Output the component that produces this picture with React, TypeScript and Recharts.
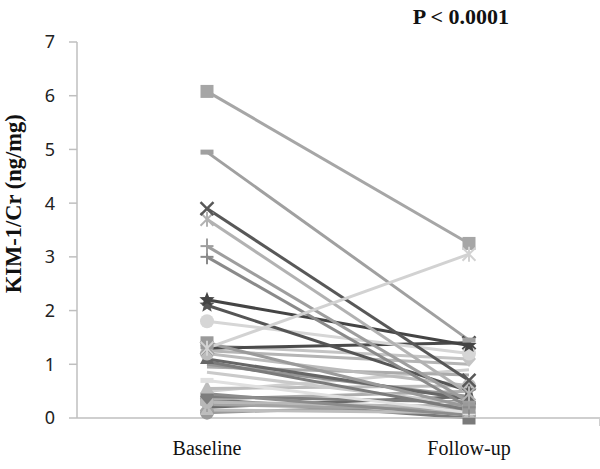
import React from "react";
import { LineChart, Line, XAxis, YAxis } from "recharts";

const categories = ["Baseline", "Follow-up"];
const yTicks = [0, 1, 2, 3, 4, 5, 6, 7];
const title = "P < 0.0001";
const yLabel = "KIM-1/Cr (ng/mg)";

// one entry per patient
const baselineValues = [
  0.35, 0.1, 0.15, 0.2, 0.25, 0.3, 0.35, 0.4, 0.45, 0.5, 0.55, 0.7, 0.85, 0.95,
  1.0, 1.05, 1.1, 1.2, 1.25, 1.35, 1.3, 1.4, 1.8, 2.1, 2.2, 3.0, 3.2, 3.7, 3.9,
  4.95, 6.08, 1.3,
];
const followUpValues = [
  0.0, 0.25, 0.1, 0.4, 0.15, 0.2, 0.5, 0.3, 0.05, 0.9, 0.6, 0.1, 0.25, 0.8,
  0.4, 0.15, 0.35, 0.6, 1.0, 1.1, 1.4, 0.2, 1.2, 0.5, 1.35, 0.2, 0.3, 0.45, 0.7,
  1.45, 3.25, 3.05,
];
const seriesColors = [
  "#7a7a7a", "#9a9a9a", "#bdbdbd", "#6a6a6a", "#a3a3a3", "#b8b8b8", "#adadad",
  "#7d7d7d", "#8c8c8c", "#d0d0d0", "#bcbcbc", "#e0e0e0", "#cacaca", "#ababab",
  "#959595", "#7a7a7a", "#666666", "#bbbbbb", "#b5b5b5", "#c4c4c4", "#4a4a4a",
  "#9a9a9a", "#d6d6d6", "#555555", "#444444", "#8a8a8a", "#9e9e9e", "#b2b2b2",
  "#585858", "#a0a0a0", "#a6a6a6", "#d2d2d2",
];
const seriesMarkers = [
  "square", "circle", "triangle", "none", "asterisk", "circle", "none", "diamond",
  "none", "none", "triangle", "dash", "none", "none", "none", "none", "triangle",
  "circle", "none", "diamond", "x", "square", "circle", "star", "star", "plus",
  "plus", "asterisk", "x", "dash", "square", "asterisk",
];

const rows = categories.map((name, i) => {
  const row: Record<string, string | number> = { name };
  baselineValues.forEach((b, k) => {
    row["p" + k] = i === 0 ? b : followUpValues[k];
  });
  return row;
});

function Marker(props: any) {
  const { cx, cy, kind, color } = props;
  if (cx == null || cy == null) return null;
  const s = 6.5;
  switch (kind) {
    case "square":
      return <rect x={cx - s} y={cy - s} width={2 * s} height={2 * s} fill={color} />;
    case "dash":
      return <rect x={cx - s} y={cy - 2.5} width={2 * s} height={5} fill={color} />;
    case "circle":
      return <circle cx={cx} cy={cy} r={7} fill={color} />;
    case "diamond":
      return (
        <polygon
          points={`${cx},${cy - 8} ${cx + 7},${cy} ${cx},${cy + 8} ${cx - 7},${cy}`}
          fill={color}
        />
      );
    case "triangle":
      return (
        <polygon
          points={`${cx},${cy - 8} ${cx + 7},${cy + 5} ${cx - 7},${cy + 5}`}
          fill={color}
        />
      );
    case "x":
      return (
        <g stroke={color} strokeWidth={2.5}>
          <line x1={cx - s} y1={cy - s} x2={cx + s} y2={cy + s} />
          <line x1={cx - s} y1={cy + s} x2={cx + s} y2={cy - s} />
        </g>
      );
    case "asterisk":
      return (
        <g stroke={color} strokeWidth={2}>
          <line x1={cx - s} y1={cy - s} x2={cx + s} y2={cy + s} />
          <line x1={cx - s} y1={cy + s} x2={cx + s} y2={cy - s} />
          <line x1={cx} y1={cy - s - 1} x2={cx} y2={cy + s + 1} />
        </g>
      );
    case "plus":
      return (
        <g stroke={color} strokeWidth={2}>
          <line x1={cx - s} y1={cy} x2={cx + s} y2={cy} />
          <line x1={cx} y1={cy - s - 1} x2={cx} y2={cy + s + 1} />
        </g>
      );
    case "star": {
      const pts: string[] = [];
      for (let j = 0; j < 10; j++) {
        const r = j % 2 === 0 ? 8 : 3.5;
        const a = -Math.PI / 2 + (j * Math.PI) / 5;
        pts.push(`${cx + r * Math.cos(a)},${cy + r * Math.sin(a)}`);
      }
      return <polygon points={pts.join(" ")} fill={color} />;
    }
    default:
      return <g />;
  }
}

function YLabel(props: any) {
  const vb = props.viewBox || { x: 0, y: 0, width: 0, height: 0 };
  const x = vb.x + 21;
  const y = vb.y + vb.height * 0.43;
  return (
    <text
      x={x}
      y={y}
      transform={`rotate(-90 ${x} ${y})`}
      textAnchor="middle"
      fontFamily="'Liberation Serif', 'Times New Roman', serif"
      fontWeight="bold"
      fontSize={22.5}
      fill="#111"
    >
      {yLabel}
    </text>
  );
}

export default function App() {
  return (
    <div style={{ position: "absolute", left: 0, top: 0, width: 600, height: 469, background: "#fff" }}>
      <LineChart
        width={600}
        height={469}
        data={rows}
        margin={{ top: 42, right: 0, bottom: 0, left: 0 }}
      >
        <text
          x={461}
          y={24}
          textAnchor="middle"
          fontFamily="'Liberation Serif', 'Times New Roman', serif"
          fontWeight="bold"
          fontSize={22}
          fill="#111"
        >
          {title}
        </text>
        <XAxis
          dataKey="name"
          height={1}
          padding={{ left: 130, right: 131 }}
          axisLine={{ stroke: "#bfbfbf", strokeWidth: 1.5 }}
          tickLine={false}
          tickMargin={17}
          tick={{
            fontFamily: "'Liberation Serif', 'Times New Roman', serif",
            fontSize: 20,
            fill: "#111",
          }}
        />
        <XAxis
          xAxisId="div"
          type="number"
          domain={[0, 2]}
          ticks={[1]}
          height={50}
          axisLine={false}
          tickLine={{ stroke: "#bfbfbf", strokeWidth: 1.5 }}
          tickSize={7}
          tickFormatter={() => ""}
        />
        <YAxis
          domain={[0, 7]}
          ticks={yTicks}
          width={77}
          axisLine={{ stroke: "#bfbfbf", strokeWidth: 1.5 }}
          tickLine={{ stroke: "#bfbfbf", strokeWidth: 1.5 }}
          tickSize={8}
          tickMargin={14}
          tick={{ fontFamily: "'Noto Sans', sans-serif", fontSize: 18, fill: "#222" }}
          label={<YLabel />}
        />
        {baselineValues.map((_, k) => (
          <Line
            key={k}
            dataKey={"p" + k}
            stroke={seriesColors[k]}
            strokeWidth={3}
            isAnimationActive={false}
            activeDot={false}
            dot={(p: any) => (
              <Marker key={`m${k}-${p.index}`} cx={p.cx} cy={p.cy} kind={seriesMarkers[k]} color={seriesColors[k]} />
            )}
          />
        ))}
      </LineChart>
    </div>
  );
}
